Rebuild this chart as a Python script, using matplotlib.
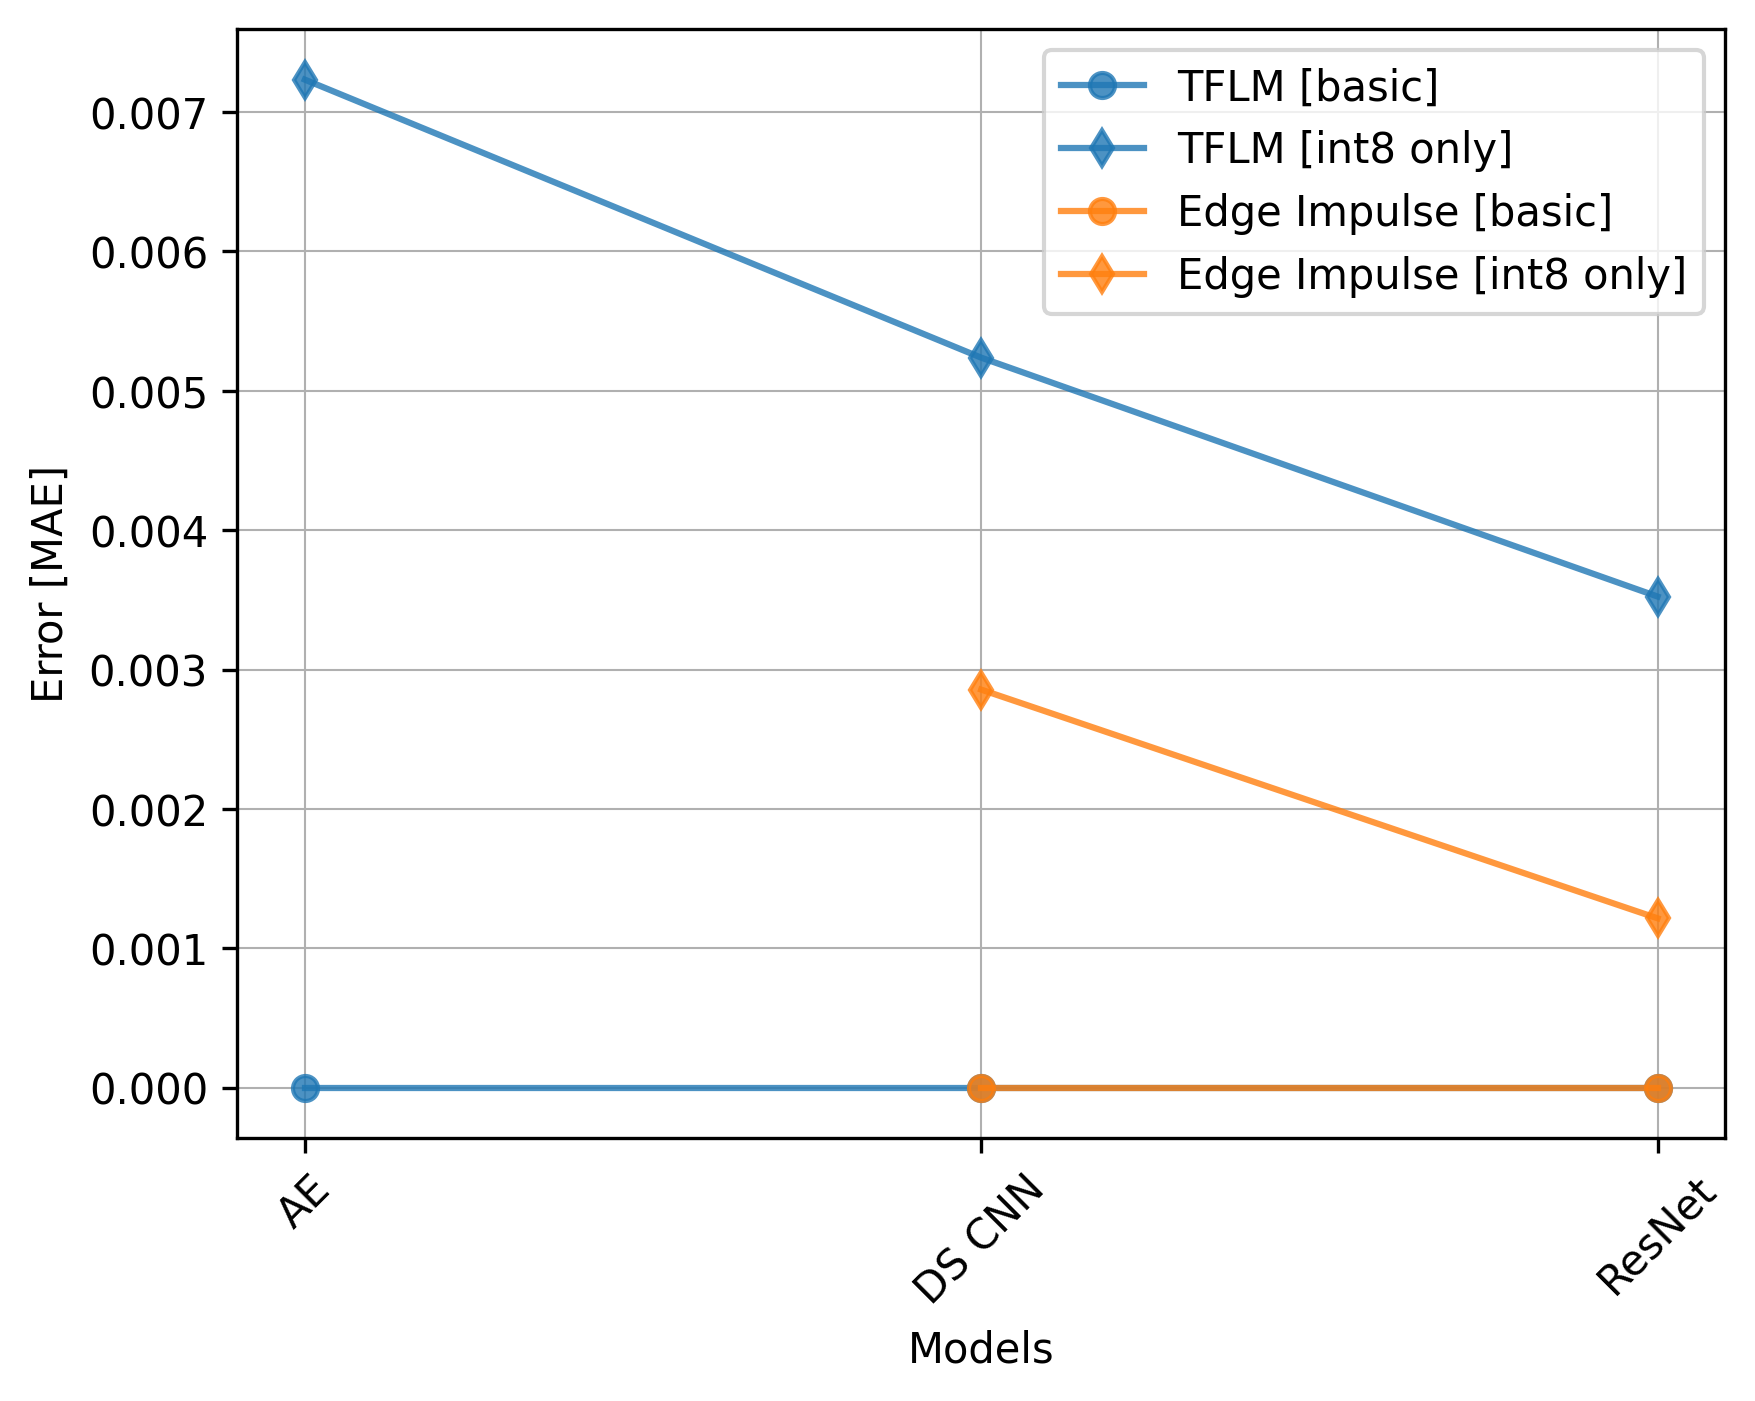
import numpy as np
import matplotlib
matplotlib.use("Agg")
import matplotlib.pyplot as plt

############## Daten ##############
models = ["AE", "DS CNN", "ResNet"]
tflm_basic = [0.0, 0.0, 0.0]
tflm_int8 = [0.007233, 0.005238, 0.003524]
ei_basic = [np.nan, 0.0, 0.0]
ei_int8 = [np.nan, 0.002856, 0.001215]

############## Zeichnen ##############
fig, ax = plt.subplots()

x = np.arange(len(models))
ax.plot(x, tflm_basic, marker="o", color="C0", alpha=0.8, label="TFLM [basic]")
ax.plot(x, tflm_int8, marker="d", color="C0", alpha=0.8, label="TFLM [int8 only]")
ax.plot(x, ei_basic, marker="o", color="C1", alpha=0.8, label="Edge Impulse [basic]")
ax.plot(x, ei_int8, marker="d", color="C1", alpha=0.8, label="Edge Impulse [int8 only]")

ax.set_xticks(x)
ax.set_xticklabels(models, rotation=45)
ax.grid(True, linewidth=0.5)
ax.set_xlabel("Models")
ax.set_ylabel("Error [MAE]")
ax.legend()

plt.savefig("out.png", dpi=300, bbox_inches="tight")
